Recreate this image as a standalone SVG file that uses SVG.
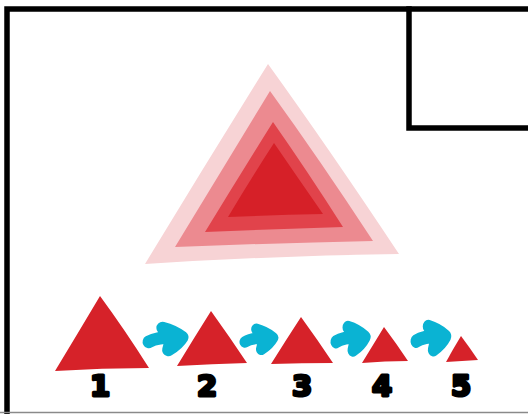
<svg xmlns="http://www.w3.org/2000/svg" width="528" height="414" viewBox="0 0 528 414">
<style>
.frame{fill:none;stroke:#000;stroke-width:5.5;stroke-linecap:square}
.tri{fill:#d62229}
.arr{fill:#0ab3d3;stroke:#0ab3d3;stroke-width:11;stroke-linecap:round;stroke-linejoin:round}
.lbl{font-family:"DejaVu Sans",sans-serif;font-weight:bold;font-size:29px;fill:#000;stroke:#000;stroke-width:3;stroke-linejoin:round;text-anchor:middle}
</style>
<defs>
<path id="arrow" class="arr" d="M6,19 C13,15 22,15 28,15 L30,15 M18,7 C26,9 31,12 35,15 C32,20 28,23 23,26 L26,15 Z"/>
</defs>
<rect width="528" height="414" fill="#fff"/>
<g id="frame">
<path class="frame" d="M7,414 V9 H528"/>
<path class="frame" d="M409,9 V128 H528"/>
<line x1="0" y1="412.5" x2="528" y2="412.5" stroke="#8a8a8a" stroke-width="1.5"/>
</g>
<g id="big-triangle">
<path fill="#f7d3d5" d="M268,64 Q330,150 399,254 Q270,256 145,264 Q205,165 268,64 Z"/>
<path fill="#ec8a90" d="M270,91 Q320,160 373,241 Q275,243 175,247 Q222,170 270,91 Z"/>
<path fill="#e1434b" d="M273,122 Q308,172 343,227 Q275,229 205,232 Q238,178 273,122 Z"/>
<path fill="#d62028" d="M274,143 Q298,178 323,214 Q275,215 228,217 Q250,180 274,143 Z"/>
</g>
<g id="step1">
<path class="tri" d="M100,296 Q125,330 149,368 Q102,368 55,371 Q78,333 100,296 Z"/>
<text class="lbl" x="100" y="396">1</text>
</g>
<g id="step2">
<path class="tri" d="M211,311 Q229,336 247,363 Q212,364 177,366 Q194,338 211,311 Z"/>
<text class="lbl" x="207" y="396">2</text>
</g>
<g id="step3">
<path class="tri" d="M301,317 Q317,339 333,363 Q302,363 271,364 Q286,340 301,317 Z"/>
<text class="lbl" x="302" y="396">3</text>
</g>
<g id="step4">
<path class="tri" d="M384,327 Q396,343 408,361 Q385,361 362,363 Q373,345 384,327 Z"/>
<text class="lbl" x="382" y="396">4</text>
</g>
<g id="step5">
<path class="tri" d="M461,336 Q470,348 478,360 Q462,361 446,362 Q453,349 461,336 Z"/>
<text class="lbl" x="461" y="396">5</text>
</g>
<g id="connectors">
<use href="#arrow" transform="translate(142,320) scale(1.15,1.15)"/>
<use href="#arrow" transform="translate(239,322) scale(0.97,1.05)"/>
<use href="#arrow" transform="translate(330,319) scale(1,1.2)"/>
<use href="#arrow" transform="translate(410,318) scale(1.02,1.22)"/>
</g>
</svg>
